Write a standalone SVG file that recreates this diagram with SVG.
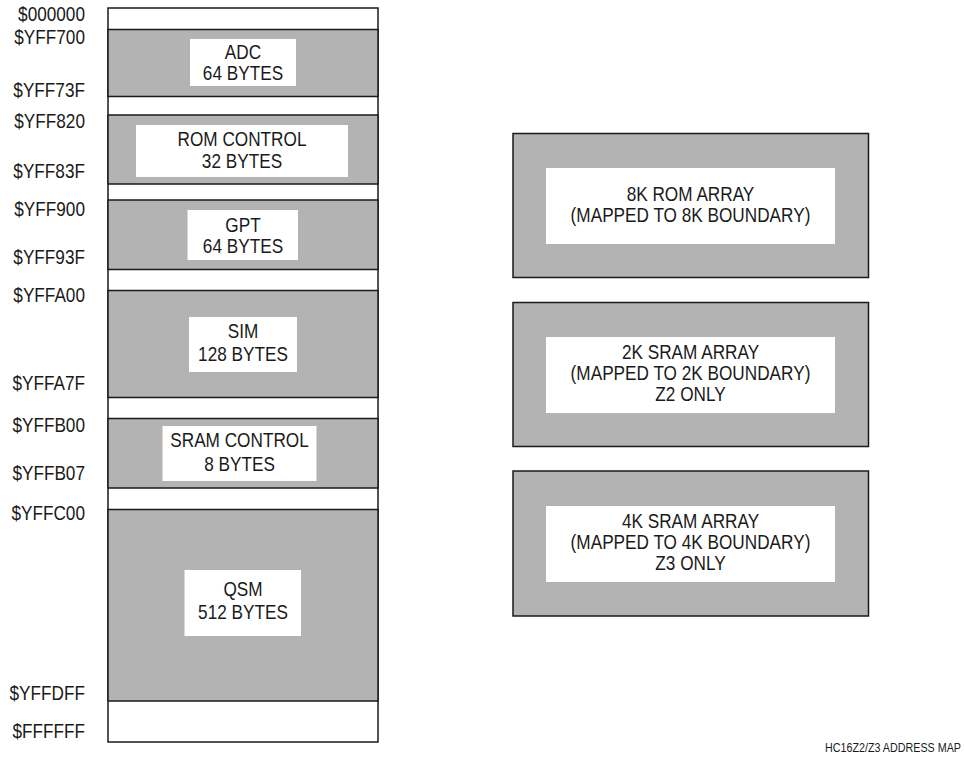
<svg xmlns="http://www.w3.org/2000/svg" width="964" height="769" viewBox="0 0 964 769">
<style>
.frame{fill:#fff;stroke:#1a1a1a;stroke-width:1.5}
.band{fill:#b3b3b3;stroke:#1a1a1a;stroke-width:1.5}
.inner{fill:#fff;stroke:none}
text{font-family:"Liberation Sans",Arial,sans-serif;font-size:20px;fill:#1a1a1a}
.c{text-anchor:middle}
.r{text-anchor:end}
.cap{font-size:12.5px}
</style>
<g id="memory-map">
<rect class="frame" x="108" y="8" width="270" height="734"/>
</g>
<g id="adc">
<rect class="band" x="108" y="29.5" width="270" height="67"/>
<rect class="inner" x="190" y="39" width="106" height="47"/>
<text class="c" transform="translate(243,59.3) scale(0.86,1)">ADC</text>
<text class="c" transform="translate(243,80) scale(0.86,1)">64 BYTES</text>
</g>
<g id="rom-control">
<rect class="band" x="108" y="115" width="270" height="69"/>
<rect class="inner" x="136" y="125" width="212" height="52"/>
<text class="c" transform="translate(242,145.5) scale(0.86,1)">ROM CONTROL</text>
<text class="c" transform="translate(242,167.5) scale(0.86,1)">32 BYTES</text>
</g>
<g id="gpt">
<rect class="band" x="108" y="200" width="270" height="69.5"/>
<rect class="inner" x="187.5" y="210" width="110.5" height="50"/>
<text class="c" transform="translate(243,232) scale(0.86,1)">GPT</text>
<text class="c" transform="translate(243,252.5) scale(0.86,1)">64 BYTES</text>
</g>
<g id="sim">
<rect class="band" x="108" y="290.5" width="270" height="107"/>
<rect class="inner" x="189" y="317" width="108" height="55"/>
<text class="c" transform="translate(243,337.5) scale(0.86,1)">SIM</text>
<text class="c" transform="translate(243,360.5) scale(0.86,1)">128 BYTES</text>
</g>
<g id="sram-control">
<rect class="band" x="108" y="418.5" width="270" height="69.5"/>
<rect class="inner" x="162.5" y="426" width="154" height="55"/>
<text class="c" transform="translate(239.5,447) scale(0.86,1)">SRAM CONTROL</text>
<text class="c" transform="translate(239.5,470.5) scale(0.86,1)">8 BYTES</text>
</g>
<g id="qsm">
<rect class="band" x="108" y="509.5" width="270" height="191.5"/>
<rect class="inner" x="184.5" y="570" width="116.5" height="66"/>
<text class="c" transform="translate(243,595.5) scale(0.86,1)">QSM</text>
<text class="c" transform="translate(243,618.5) scale(0.86,1)">512 BYTES</text>
</g>
<g id="addresses">
<text class="r" transform="translate(85,20.7) scale(0.86,1)">$000000</text>
<text class="r" transform="translate(85,43.5) scale(0.86,1)">$YFF700</text>
<text class="r" transform="translate(85,96.5) scale(0.86,1)">$YFF73F</text>
<text class="r" transform="translate(85,127.5) scale(0.86,1)">$YFF820</text>
<text class="r" transform="translate(85,177.5) scale(0.86,1)">$YFF83F</text>
<text class="r" transform="translate(85,215.5) scale(0.86,1)">$YFF900</text>
<text class="r" transform="translate(85,263.5) scale(0.86,1)">$YFF93F</text>
<text class="r" transform="translate(85,301.5) scale(0.86,1)">$YFFA00</text>
<text class="r" transform="translate(85,389.5) scale(0.86,1)">$YFFA7F</text>
<text class="r" transform="translate(85,431.5) scale(0.86,1)">$YFFB00</text>
<text class="r" transform="translate(85,479.5) scale(0.86,1)">$YFFB07</text>
<text class="r" transform="translate(85,519.5) scale(0.86,1)">$YFFC00</text>
<text class="r" transform="translate(85,699.5) scale(0.86,1)">$YFFDFF</text>
<text class="r" transform="translate(85,737.5) scale(0.86,1)">$FFFFFF</text>
</g>
<g id="rom-array">
<rect class="band" x="513" y="133.5" width="355.5" height="144"/>
<rect class="inner" x="546" y="168" width="289" height="76"/>
<text class="c" transform="translate(690.5,200.5) scale(0.86,1)">8K ROM ARRAY</text>
<text class="c" transform="translate(690.5,221.5) scale(0.86,1)">(MAPPED TO 8K BOUNDARY)</text>
</g>
<g id="sram-2k">
<rect class="band" x="513" y="302.5" width="355.5" height="144"/>
<rect class="inner" x="546" y="337" width="289" height="76"/>
<text class="c" transform="translate(690.5,358.5) scale(0.86,1)">2K SRAM ARRAY</text>
<text class="c" transform="translate(690.5,379.5) scale(0.86,1)">(MAPPED TO 2K BOUNDARY)</text>
<text class="c" transform="translate(690.5,400.5) scale(0.86,1)">Z2 ONLY</text>
</g>
<g id="sram-4k">
<rect class="band" x="513" y="471" width="355.5" height="145"/>
<rect class="inner" x="546" y="506" width="289" height="76"/>
<text class="c" transform="translate(690.5,527.5) scale(0.86,1)">4K SRAM ARRAY</text>
<text class="c" transform="translate(690.5,548.5) scale(0.86,1)">(MAPPED TO 4K BOUNDARY)</text>
<text class="c" transform="translate(690.5,569.5) scale(0.86,1)">Z3 ONLY</text>
</g>
<g id="connectors"></g>
<g id="caption">
<text class="r cap" transform="translate(961,751.5) scale(0.86,1)">HC16Z2/Z3 ADDRESS MAP</text>
</g>
</svg>
